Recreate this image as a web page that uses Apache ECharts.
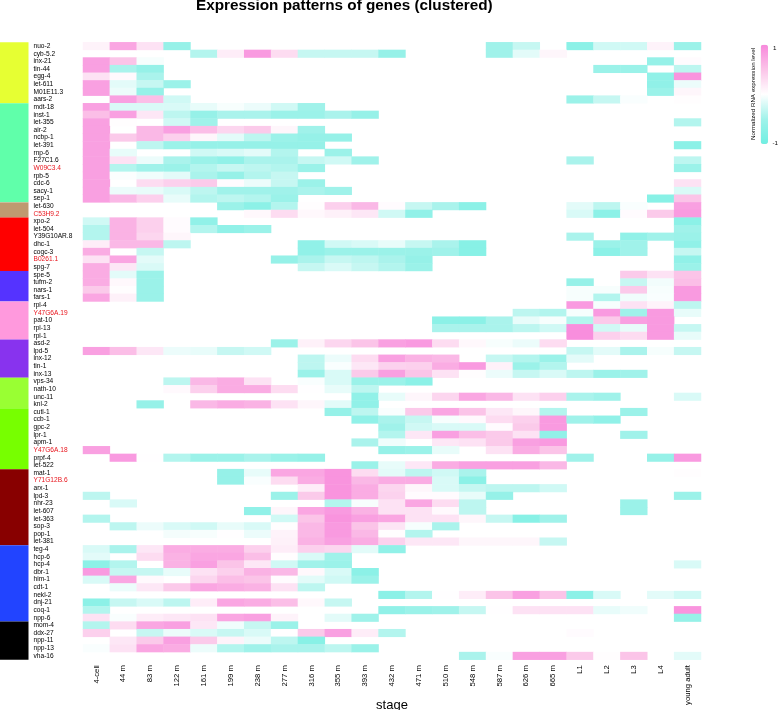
<!DOCTYPE html>
<html>
<head>
<meta charset="utf-8">
<style>html,body{margin:0;padding:0;background:#fff}#chart{width:778px;height:710px}</style>
<script src="https://cdn.jsdelivr.net/npm/echarts@6/dist/echarts.min.js"></script>
</head>
<body>
<div id="chart"></div>
<script>
const stages = ['4-cell','44 m','83 m','122 m','161 m','199 m','238 m','277 m','316 m','355 m','393 m','432 m','471 m','510 m','548 m','587 m','626 m','665 m','L1','L2','L3','L4','young adult'];
const genes = ['nuo-2','cyb-5.2','inx-21','tin-44','egg-4','let-611','M01E11.3','aars-2','mdt-18','inst-1','let-355','air-2','ncbp-1','let-391','rnp-6','F27C1.6','W09C3.4','rpb-5','cdc-6','sacy-1','sep-1','let-630','C53H9.2','xpo-2','let-504','Y39G10AR.8','dhc-1','cogc-3','B0261.1','spg-7','spe-5','tufm-2','nars-1','fars-1','rpl-4','Y47G6A.19','pat-10','rpl-13','rpl-1','asd-2','lpd-5','inx-12','tin-1','inx-13','vps-34','nath-10','unc-11','knl-2','cutl-1','ccb-1','gpc-2','lpr-1','apm-1','Y47G6A.18','prpf-4','let-522','mat-1','Y71G12B.6','arx-1','lpd-3','nhr-23','let-607','let-363','sop-3','pop-1','let-381','teg-4','hcp-6','hcp-4','dbr-1','him-1','cdt-1','nekl-2','dnj-21','coq-1','npp-6','mom-4','ddx-27','npp-11','npp-13','vha-16'];
const redGenes = ['W09C3.4','C53H9.2','B0261.1','Y47G6A.19','Y47G6A.18','Y71G12B.6'];
const clusterSizes = [8,13,2,7,4,5,5,4,8,10,10,5];
const clusterColors = ['#E6FF33','#60FFAA','#BF9A70','#FF0000','#5533FF','#FF99DD','#8833EE','#99FF33','#77FF00','#880000','#2244FF','#000000'];
const n = null;
const expression = [
[.1,.75,.25,-.6,n, n,n,n,n,n, n,n,n,n,n, -.5,-.3,n,-.7,-.25, -.25,.1,-.55],
[n,n,n,n,-.4, .15,.85,.3,-.3,-.3, -.3,-.6,n,n,n, -.5,-.15,.08,n,n, n,n,n],
[.8,.5,-.05,n,n, n,n,n,n,n, n,n,n,n,n, n,n,n,n,n, n,-.6,.03],
[.8,-.45,-.6,n,n, n,n,n,n,n, n,n,n,n,n, n,n,n,n,-.55, -.55,n,-.35],
[.25,.05,-.45,n,n, n,n,n,n,n, n,n,n,n,n, n,n,n,n,n, n,-.65,.9],
[.8,-.15,-.3,-.55,n, n,n,n,n,n, n,n,n,n,n, n,n,n,n,n, n,-.65,-.1],
[.8,-.1,-.6,n,n, n,n,n,n,n, n,n,n,n,n, n,n,n,n,n, n,-.55,.08],
[n,.8,.55,-.25,n, n,n,n,n,n, n,n,n,n,n, n,n,n,-.55,-.3, -.03,n,.02],
[.8,-.2,-.2,-.2,-.12, -.04,-.1,-.25,-.5,n, n,n,n,n,n, n,n,n,n,n, n,n,n],
[.55,.8,.2,-.35,-.6, -.45,-.45,-.55,-.55,-.45, -.6,n,n,n,n, n,n,n,n,n, n,n,n],
[.8,.02,n,-.25,-.5, n,n,n,n,n, n,n,n,n,n, n,n,n,n,n, n,n,-.4],
[.8,n,.6,.8,.55, .35,.45,.08,-.5,n, n,n,n,n,n, n,n,n,n,n, n,n,n],
[.8,.45,.6,.4,.08, -.15,-.35,-.55,-.6,-.6, n,n,n,n,n, n,n,n,n,n, n,n,n],
[.8,n,-.35,-.55,-.6, -.6,-.6,-.6,-.6,n, n,n,n,n,n, n,n,n,n,n, n,n,-.7],
[.8,-.12,n,n,-.25, -.2,-.15,-.4,n,-.55, n,n,n,n,n, n,n,n,n,n, n,n,n],
[.8,.25,-.1,-.45,-.55, -.65,-.45,-.45,-.3,-.25, -.5,n,n,n,n, n,n,n,-.45,n, n,n,-.35],
[.8,-.4,-.5,-.55,-.4, -.3,-.35,-.4,-.55,n, n,n,n,n,n, n,n,n,n,n, n,n,-.55],
[.8,-.02,-.08,-.15,-.45, -.6,-.4,-.3,n,n, n,n,n,n,n, n,n,n,n,n, n,n,n],
[.8,n,.3,.4,.45, .03,-.1,-.3,-.55,n, n,n,n,n,n, n,n,n,n,n, n,n,.25],
[.8,-.1,-.12,-.2,-.35, -.5,-.5,-.5,-.45,-.5, n,n,n,n,n, n,n,n,n,n, n,n,-.2],
[.8,.6,.4,-.12,-.4, -.35,-.4,-.55,n,n, n,n,n,n,n, n,n,n,n,n, n,-.75,.5],
[n,n,n,n,n, -.55,-.7,-.4,.02,.4, .6,.03,-.3,-.45,-.7, n,n,n,-.15,-.35, -.03,n,.8],
[n,n,n,n,n, n,.06,.3,.06,.12, .2,-.25,-.65,n,n, n,n,n,-.2,-.7, .03,.45,.85],
[-.25,.65,.4,.03,-.65, n,n,n,n,n, n,n,n,n,n, n,n,n,n,n, n,n,-.7],
[-.4,.65,.4,.03,-.4, -.65,-.55,n,n,n, n,n,n,n,n, n,n,n,n,n, n,n,-.5],
[-.4,.65,.35,.08,n, n,n,n,n,n, n,n,n,n,n, n,n,n,-.45,n, -.65,-.5,-.55],
[.15,.6,.6,-.35,n, n,n,n,-.65,-.25, -.2,-.12,-.3,-.45,-.75, n,n,n,n,-.55, -.5,n,-.65],
[.7,n,-.3,n,n, n,n,n,-.65,-.55, -.55,-.55,-.55,-.5,-.75, n,n,n,n,-.7, -.5,n,-.3],
[.25,.75,-.15,n,n, n,n,-.6,-.45,-.3, -.35,-.45,-.6,n,n, n,n,n,n,n, n,n,-.65],
[.7,.2,-.2,n,n, n,n,n,-.3,-.2, -.3,-.4,-.55,n,n, n,n,n,n,n, n,n,-.55],
[.7,-.15,-.55,n,n, n,n,n,n,n, n,n,n,n,n, n,n,n,n,n, .45,.25,.5],
[.7,.06,-.55,n,n, n,n,n,n,n, n,n,n,n,n, n,n,n,-.6,n, -.3,-.07,.55],
[.45,.02,-.55,n,n, n,n,n,n,n, n,n,n,n,n, n,n,n,-.04,-.04, .45,-.04,.85],
[.75,.12,-.55,n,n, n,n,n,n,n, n,n,n,n,n, n,n,n,-.04,-.4, -.08,-.03,.85],
[n,n,n,n,n, n,n,n,n,n, n,n,n,n,n, n,n,n,.85,-.05, .25,.1,-.35],
[n,n,n,n,n, n,n,n,n,n, n,n,n,n,n, n,-.35,-.4,-.05,.85, -.5,.85,-.12],
[n,n,n,n,n, n,n,n,n,n, n,n,n,-.7,-.7, -.45,-.12,-.04,-.4,.45, .8,.85,n],
[n,n,n,n,n, n,n,n,n,n, n,n,n,-.45,-.45, -.45,-.35,-.25,.95,-.25, -.12,.85,-.3],
[n,n,n,n,n, n,n,n,n,n, n,n,n,n,n, n,n,n,.95,.4, .3,.85,-.12],
[n,n,n,n,n, n,n,-.55,.12,.35, .5,.8,.85,.3,.06, -.04,-.1,.3,n,n, n,n,n],
[.8,.55,.2,-.1,-.12, -.3,-.25,n,n,n, n,n,n,n,n, n,n,n,-.3,-.15, -.45,-.05,-.3],
[n,n,n,n,n, n,n,n,-.35,-.1, .3,.8,.65,.6,n, -.3,-.4,-.55,-.15,n, n,n,n],
[n,n,n,n,n, n,n,n,-.35,-.03, .2,.38,.4,.7,.85, .12,-.55,-.4,n,n, n,n,n],
[n,n,n,n,n, n,n,n,-.55,-.2, .45,.8,.5,.25,.02, -.1,-.3,-.2,-.35,-.55, -.5,n,n],
[n,n,n,-.35,.6, .7,.25,n,-.03,-.2, -.55,-.55,-.7,n,n, n,n,n,n,n, n,n,n],
[n,n,n,.05,.4, .7,.7,.3,.01,-.12, -.35,n,n,n,n, n,n,n,n,n, n,n,n],
[n,n,n,n,n, n,n,n,n,n, -.65,-.12,.08,.35,.75, .6,.25,.4,-.45,-.5, n,n,-.2],
[n,n,-.6,n,.6, .7,.65,.25,.08,-.15, -.65,n,n,n,n, n,n,n,n,n, n,n,n],
[n,n,n,n,n, n,n,n,n,-.6, -.35,-.03,.45,.75,.5, .2,.08,-.4,n,n, -.55,n,n],
[n,n,n,n,n, n,n,n,n,n, -.65,-.45,-.3,-.04,.05, .3,.4,.85,-.5,-.65, n,n,n],
[n,n,n,n,n, n,n,n,n,n, n,-.5,-.25,-.2,-.2, .03,.45,.85,n,n, n,n,n],
[n,n,n,n,n, n,n,n,n,n, n,-.4,.2,.8,.55, .45,.25,-.65,n,n, -.5,n,n],
[n,n,n,n,n, n,n,n,n,n, -.45,-.08,n,.2,.25, .45,.8,.85,n,n, n,n,n],
[.8,n,n,n,n, n,n,n,n,n, n,-.6,-.55,-.12,n, .25,.7,.5,n,n, n,n,n],
[n,.85,.01,-.4,-.55, -.55,-.45,-.55,-.6,n, n,n,n,n,n, n,n,n,-.5,n, n,-.6,.85],
[n,n,n,n,n, n,n,n,n,n, -.55,-.12,.2,.7,.8, .8,.8,.6,n,n, n,n,n],
[n,n,n,n,n, -.6,-.12,.75,.75,.9, .3,-.15,-.35,-.25,-.45, n,n,n,n,n, n,n,.02],
[n,n,n,n,n, -.6,-.03,.3,.7,.9, .6,.7,.7,-.2,-.7, n,n,n,n,n, n,n,n],
[n,n,n,n,n, n,n,n,.15,.9, .7,.35,.08,-.2,-.3, -.35,-.35,-.25,n,n, n,n,n],
[-.35,n,n,n,n, n,n,-.55,.45,.9, .7,.38,.03,.03,-.12, -.6,n,n,n,n, n,n,-.55],
[n,-.2,n,n,n, n,n,n,n,-.4, -.04,.25,.75,.3,-.35, n,n,n,n,n, -.55,n,n],
[n,n,n,n,n, n,-.65,.08,.75,.85, .65,.25,.25,.05,-.35, n,n,n,n,n, -.55,n,n],
[-.4,n,n,n,n, n,n,-.25,.5,.9, .8,.75,.25,.25,.08, -.3,-.75,-.5,n,n, n,n,n],
[n,-.35,-.1,-.2,-.25, -.12,-.2,.02,.6,.85, .5,.22,-.05,-.45,n, n,n,n,n,n, n,n,n],
[n,n,n,-.06,-.04, .01,-.1,.1,.6,.85, .6,.02,-.4,n,n, n,n,n,n,n, n,n,n],
[n,n,n,n,n, n,n,.12,.65,.8, .7,.38,.2,.2,.08, .08,.08,-.3,n,n, n,n,n],
[-.2,-.45,.2,.7,.7, .7,.4,.15,.4,.35, -.15,-.65,n,n,n, n,n,n,n,n, n,n,n],
[-.15,n,.3,.65,.75, .75,.55,.02,-.2,-.5, n,n,n,n,n, n,n,n,n,n, n,n,n],
[-.7,-.4,n,.65,.8, .5,.2,-.25,-.5,-.55, n,n,n,n,n, n,n,n,n,n, n,n,-.2],
[.85,-.3,-.3,-.12,.25, .4,.65,.6,.06,-.2, -.7,n,n,n,n, n,n,n,n,n, n,n,n],
[-.2,.75,.05,n,.35, .55,.5,.03,-.15,-.25, -.55,n,n,n,n, n,n,n,n,n, n,n,n],
[n,-.1,.2,.45,.75, .7,.65,.25,-.35,n, n,n,n,n,n, n,n,n,n,n, n,n,n],
[n,n,n,n,n, n,n,n,n,n, n,-.7,-.4,.01,.15, .5,.8,.5,-.7,-.2, n,-.15,-.25],
[-.7,-.3,-.2,-.35,.15, .75,.7,.55,.06,-.3, n,n,n,n,n, n,n,n,n,n, n,n,n],
[-.4,n,n,n,n, n,n,n,n,n, n,-.65,-.55,-.5,-.3, .01,.25,.25,.25,-.12, -.08,n,.9],
[.25,-.03,.15,.2,.25, .75,.8,.1,n,-.15, -.5,n,n,n,n, n,n,n,n,n, n,n,-.6],
[-.4,.3,.75,.8,.2, -.08,-.3,-.55,n,n, n,n,n,n,n, n,n,n,n,n, n,n,n],
[.4,n,-.3,-.1,-.2, -.3,-.2,.01,.45,.8, .15,-.4,n,n,n, n,n,n,.03,n, n,n,n],
[n,.2,.45,.8,.45, .1,-.1,-.35,-.75,n, n,n,n,n,n, n,n,n,n,n, n,n,n],
[-.03,.25,.75,.7,-.1, -.4,-.5,-.45,-.45,-.35, -.55,n,n,n,n, n,n,n,n,n, n,n,n],
[n,n,n,n,n, n,n,n,n,n, n,n,n,n,-.45, -.03,.8,.8,.45,.02, .5,n,-.15]
];

const cells = [];
expression.forEach((row, r) => row.forEach((v, c) => { if (v !== null) cells.push([c, r, v]); }));

const clusterBars = clusterSizes.map((size, k) => ({
  type: 'bar', stack: 'clusters', xAxisIndex: 1, yAxisIndex: 1, barWidth: '100%',
  data: [size], itemStyle: { color: clusterColors[k], borderWidth: 0 }, emphasis: { disabled: true }, silent: true
}));

const FONT = '"Liberation Sans", Arial, sans-serif';
const gridTop = 42.3, gridHeight = 617.4;
const chart = echarts.init(document.getElementById('chart'), null, { renderer: 'canvas' });
chart.setOption({
  animation: false,
  backgroundColor: '#ffffff',
  textStyle: { fontFamily: FONT },
  title: {
    text: 'Expression patterns of genes (clustered)',
    left: 196, top: -2, padding: 0,
    textStyle: { fontFamily: FONT, fontWeight: 'bold', fontSize: 15.3, color: '#000' }
  },
  grid: [
    { left: 83, top: gridTop, width: 618, height: gridHeight, outerBoundsMode: 'none' },
    { left: 0, top: gridTop, width: 28.5, height: gridHeight, outerBoundsMode: 'none' }
  ],
  xAxis: [
    { type: 'category', gridIndex: 0, data: stages, name: 'stage', nameLocation: 'middle', nameGap: 39,
      nameMoveOverlap: false,
      nameTextStyle: { fontFamily: FONT, fontSize: 13, color: '#000' },
      axisLine: { show: false }, axisTick: { show: false }, splitLine: { show: false },
      axisLabel: { rotate: 90, interval: 0, margin: 5.5, fontSize: 7.7, color: '#000', fontFamily: FONT } },
    { type: 'category', gridIndex: 1, data: ['cluster'], show: false }
  ],
  yAxis: [
    { type: 'category', gridIndex: 0, inverse: true,
      data: genes.map(g => redGenes.includes(g) ? { value: g, textStyle: { color: '#E8141C', align: 'left', fontSize: 6.6, fontFamily: FONT } } : g),
      axisLine: { show: false }, axisTick: { show: false }, splitLine: { show: false },
      axisLabel: { interval: 0, align: 'left', margin: 49.5, fontSize: 6.6, color: '#000', fontFamily: FONT } },
    { type: 'value', gridIndex: 1, inverse: true, min: 0, max: genes.length, show: false }
  ],
  visualMap: {
    type: 'continuous', seriesIndex: 0, min: -1, max: 1, orient: 'vertical',
    left: 760.7, top: 44.7, padding: 0, itemWidth: 7.3, itemHeight: 99.3, calculable: false, hoverLink: false,
    text: null, showLabel: false, borderWidth: 0,
    inRange: { color: ['#6FEFE2', '#A0F2EA', '#FFFFFF', '#FBC4E8', '#F888DC'] }
  },
  graphic: [
    { type: 'text', x: 753.7, y: 94, rotation: Math.PI / 2, silent: true,
      style: { text: 'Normalized RNA expression level', font: '6.2px ' + FONT, fill: '#000', textAlign: 'center', textVerticalAlign: 'middle' } },
    { type: 'text', x: 773, y: 48, silent: true,
      style: { text: '1', font: '6.2px ' + FONT, fill: '#000', textAlign: 'left', textVerticalAlign: 'middle' } },
    { type: 'text', x: 772.5, y: 143, silent: true,
      style: { text: '-1', font: '6.2px ' + FONT, fill: '#000', textAlign: 'left', textVerticalAlign: 'middle' } }
  ],
  series: [
    { type: 'heatmap', xAxisIndex: 0, yAxisIndex: 0, data: cells, progressive: 0, itemStyle: { borderWidth: 0 }, emphasis: { disabled: true } },
    ...clusterBars
  ]
});
</script>
</body>
</html>
